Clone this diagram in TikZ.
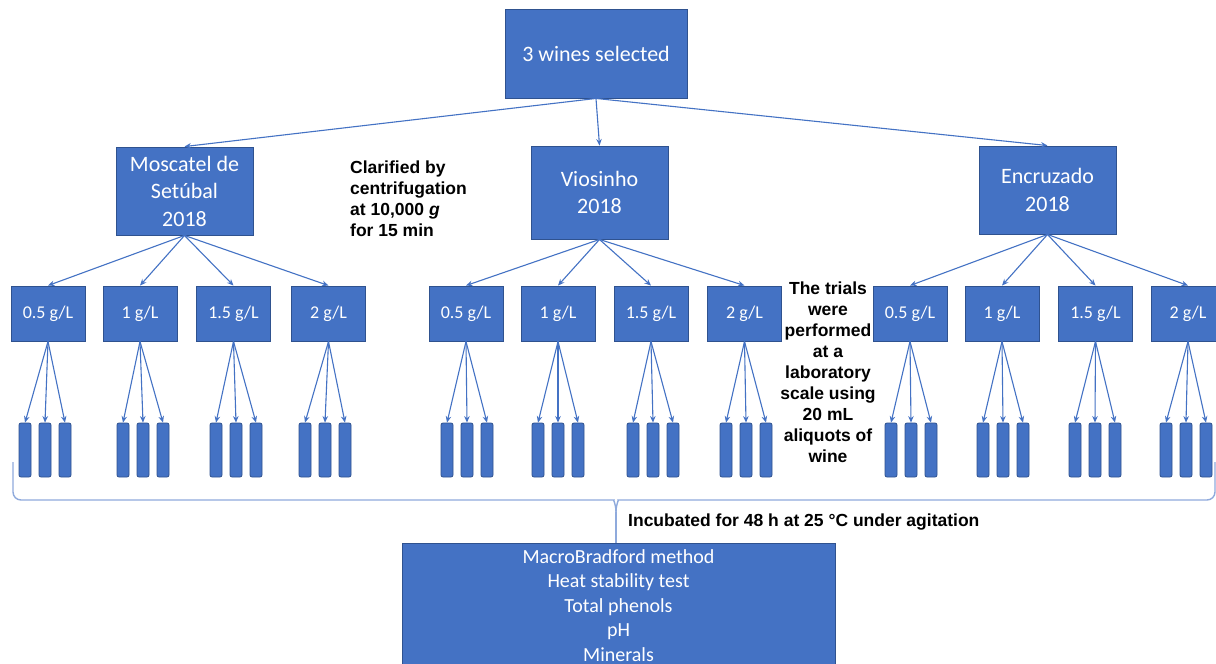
\documentclass[tikz,border=0pt]{standalone}
\usepackage{fontspec}
\setmainfont{Carlito}
\newfontfamily\arialfont{Liberation Sans}
\usetikzlibrary{arrows.meta}
\definecolor{boxblue}{HTML}{4472C4}
\definecolor{boxedge}{HTML}{2F528F}
\definecolor{arrowblue}{HTML}{4472C4}
\definecolor{bracecol}{HTML}{8FAADC}
\begin{document}
\begin{tikzpicture}[x=1pt,y=-1pt,
  box/.style={draw=boxedge, line width=0.9pt, fill=boxblue, text=white, inner sep=0pt, align=center},
  winebox/.style={box, minimum width=137pt, minimum height=88pt, font=\fontsize{22}{27.5}\selectfont},
  dosebox/.style={box, minimum width=74pt, minimum height=55pt, font=\fontsize{18}{22}\selectfont},
  tube/.style={draw=boxedge, line width=0.8pt, fill=boxblue, rounded corners=2pt, minimum width=12pt, minimum height=54pt, inner sep=0pt},
  arr/.style={draw=arrowblue, line width=1.1pt, -{Stealth[length=6.5pt,width=5.5pt]}},
  note/.style={font=\arialfont\bfseries\fontsize{17.5}{21}\selectfont, inner sep=0pt},
  bracestyle/.style={draw=bracecol, line width=1.4pt, rounded corners=8pt},
]
\useasboundingbox (0,0) rectangle (1216,664);
\fill[white] (0,0) rectangle (1216,664);

\node[box, minimum width=182pt, minimum height=89pt, font=\fontsize{22}{27.5}\selectfont] (top) at (596,53.5) {3 wines selected};
\node[winebox] (mosc) at (184.5,191) {Moscatel de\\Setúbal\\2018};
\node[winebox, minimum height=93pt] (vios) at (599.5,192.5) {Viosinho\\2018};
\node[winebox] (encr) at (1047.5,190) {Encruzado\\2018};

\draw[arr] (top.south) -- (mosc.north);
\draw[arr] (top.south) -- (vios.north);
\draw[arr] (top.south) -- (encr.north);

\foreach \i/\x/\t/\p in {1/48/{0.5 g/L}/mosc, 2/140/{1 g/L}/mosc, 3/233.5/{1.5 g/L}/mosc, 4/328.5/{2 g/L}/mosc,
  5/466/{0.5 g/L}/vios, 6/558/{1 g/L}/vios, 7/651/{1.5 g/L}/vios, 8/744.5/{2 g/L}/vios,
  9/910/{0.5 g/L}/encr, 10/1002/{1 g/L}/encr, 11/1095.5/{1.5 g/L}/encr, 12/1188/{2 g/L}/encr} {
  \node[dosebox] (d\i) at (\x,313.5) {\t};
  \draw[arr] (\p.south) -- (d\i.north);
}

\foreach \i/\x in {1/45,2/143,3/236,4/325,5/467,6/558,7/653,8/746,9/911,10/1003,11/1095,12/1186} {
  \foreach \k/\dx in {a/-20,b/0,c/20} {
    \node[tube] (t\i\k) at (\x+\dx,450) {};
    \draw[arr] (d\i.south) -- (t\i\k.north);
  }
}

\node[note, anchor=north west, align=left] (clar) at (350,161) {Clarified by\\centrifugation\\at 10,000 \textit{g}\\for 15 min};
\node[note, align=center] (trials) at (828,372) {The trials\\were\\performed\\at a\\laboratory\\scale using\\20 mL\\aliquots of\\wine};

\node[box, minimum width=433pt, minimum height=125pt, font=\fontsize{20}{24.5}\selectfont] (res) at (618.5,605.5) {MacroBradford method\\Heat stability test\\Total phenols\\pH\\Minerals};

\coordinate (tip) at (616,512);
\draw[bracestyle] (13,462) -- (13,500) -- (606,500) .. controls (613,500) and (616,504) .. (tip);
\draw[bracestyle] (1215,462) -- (1215,500) -- (626,500) .. controls (619,500) and (616,504) .. (tip);
\draw[draw=bracecol, line width=1.4pt] (tip) -- (tip |- res.north);

\node[note, anchor=west] (inc) at (628,522) {Incubated for 48 h at 25 °C under agitation};
\end{tikzpicture}
\end{document}
